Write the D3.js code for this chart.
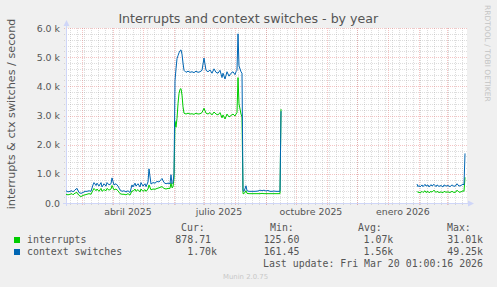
<!DOCTYPE html>
<html>
<head>
<meta charset="utf-8">
<script src="https://cdn.jsdelivr.net/npm/d3@7"></script>
<style>
html, body { margin: 0; padding: 0; background: #f0f0f0; }
svg { display: block; }
</style>
</head>
<body>
<svg id="chart" width="497" height="287"></svg>
<script>
//Time window of the graph (400 days, one pixel per day)
var startDate = new Date(2025, 1, 13, 1, 0, 0);
var endDate = new Date(2026, 2, 20, 1, 0, 0);

//Day offsets from startDate, shared by both series (null value = no data)
var days = [0, 2, 4, 6, 7, 9, 11, 13, 15, 17, 19, 21, 23, 25, 27, 28, 30, 31, 33, 35,
    36, 38, 40, 41, 43, 45, 46, 48, 50, 52, 54, 56, 58, 60, 62, 64, 66, 67, 69, 70,
    72, 74, 75, 77, 79, 80, 82, 83, 85, 87, 89, 91, 93, 95, 96, 98, 100, 102, 104, 105,
    106, 107,
    108, 109, 110, 111, 112, 113, 114, 115, 116, 117, 118,
    120, 122, 124, 126, 128, 130, 132, 134, 136, 138, 140, 142, 144, 146, 148, 150, 152, 154, 156,
    157, 159, 161, 163, 165, 167, 169, 170, 171, 172, 173, 175, 176,
    177, 178, 180, 181, 183, 186, 189, 192, 194, 196, 198, 200, 202, 204, 206, 208, 210, 212, 214, 215,
    216,
    351, 352, 353, 354, 356, 357, 359, 360, 362, 363, 365, 366, 368, 370, 371, 373, 375, 377, 378, 380,
    382, 384, 386, 388, 390, 391, 393, 395, 397, 398, 399];

//Values in thousands per second
var interrupts = [0.30, 0.28, 0.30, 0.32, 0.28, 0.34, 0.36, 0.26, 0.22, 0.26, 0.28, 0.30, 0.32, 0.30, 0.44, 0.50, 0.42, 0.48, 0.40, 0.50,
    0.40, 0.46, 0.42, 0.50, 0.44, 0.48, 0.60, 0.45, 0.48, 0.42, 0.32, 0.30, 0.30, 0.28, 0.32, 0.27, 0.42, 0.40, 0.48, 0.40,
    0.46, 0.38, 0.48, 0.40, 0.46, 0.40, 0.48, 0.62, 0.45, 0.48, 0.47, 0.50, 0.52, 0.55, 0.56, 0.50, 0.48, 0.50, 0.50, 0.70,
    0.52, 0.55,
    0.85, 2.80, 2.60, 2.90, 3.40, 3.75, 3.90, 3.92, 3.70, 3.30, 3.08,
    3.05, 3.08, 3.05, 3.06, 3.04, 3.08, 3.05, 3.06, 3.10, 3.25, 3.08, 3.05, 3.10, 3.02, 3.12, 3.05, 3.02, 3.10, 2.92,
    3.02, 2.88, 3.05, 2.95, 3.00, 3.05, 2.98, 3.05, 3.10, 4.30, 3.40, 3.05, 2.95,
    0.32, 0.32, 0.42, 0.33, 0.32, 0.32, 0.32, 0.32, 0.32, 0.33, 0.32, 0.32, 0.32, 0.32, 0.32, 0.32, 0.32, 0.32, 0.32, 3.22,
    null,
    0.40, 0.36, 0.38, 0.34, 0.40, 0.36, 0.42, 0.36, 0.40, 0.35, 0.40, 0.37, 0.44, 0.36, 0.40, 0.36, 0.38, 0.35, 0.40, 0.37,
    0.38, 0.36, 0.40, 0.36, 0.38, 0.44, 0.37, 0.38, 0.42, 0.40, 0.88];

var ctxSwitches = [0.42, 0.38, 0.40, 0.42, 0.38, 0.45, 0.50, 0.36, 0.33, 0.36, 0.40, 0.40, 0.42, 0.40, 0.62, 0.70, 0.60, 0.68, 0.58, 0.70,
    0.55, 0.66, 0.58, 0.70, 0.62, 0.66, 0.86, 0.62, 0.66, 0.58, 0.45, 0.40, 0.42, 0.38, 0.42, 0.36, 0.62, 0.55, 0.68, 0.58,
    0.66, 0.55, 0.70, 0.58, 0.66, 0.56, 0.72, 1.17, 0.65, 0.70, 0.68, 0.74, 0.72, 0.80, 0.84, 0.70, 0.66, 0.68, 0.66, 0.97,
    0.66, 0.70,
    1.00, 4.20, 4.60, 4.95, 5.05, 5.15, 5.22, 5.25, 5.10, 4.80, 4.55,
    4.48, 4.52, 4.48, 4.50, 4.47, 4.52, 4.48, 4.50, 4.55, 4.97, 4.55, 4.50, 4.56, 4.45, 4.60, 4.48, 4.45, 4.55, 4.30,
    4.45, 4.25, 4.50, 4.35, 4.45, 4.50, 4.40, 4.50, 4.55, 5.80, 4.70, 4.50, 4.45,
    0.42, 0.40, 0.59, 0.42, 0.40, 0.40, 0.40, 0.41, 0.44, 0.42, 0.44, 0.41, 0.43, 0.40, 0.40, 0.41, 0.40, 0.40, 0.40, 3.15,
    null,
    0.65, 0.56, 0.60, 0.55, 0.62, 0.56, 0.64, 0.58, 0.62, 0.55, 0.63, 0.58, 0.64, 0.56, 0.62, 0.57, 0.60, 0.55, 0.62, 0.58,
    0.60, 0.56, 0.62, 0.57, 0.60, 0.66, 0.58, 0.60, 0.65, 0.62, 1.70];

//Legend texts and statistics
var seriesNames = ["interrupts", "context switches"];
var seriesColors = ["#00cc00", "#0066b3"];
var statHeaders = ["Cur:", "Min:", "Avg:", "Max:"];
var curVals = [878.71, 1700];
var minVals = [125.60, 161.45];
var avgVals = [1070, 1560];
var maxVals = [31010, 49250];

//Axis ticks
var yTicks = [0, 1, 2, 3, 4, 5, 6];
var yTickLabels = ["0.0", "1.0 k", "2.0 k", "3.0 k", "4.0 k", "5.0 k", "6.0 k"];
var xLabelMonths = [new Date(2025, 3, 1), new Date(2025, 6, 1), new Date(2025, 9, 1), new Date(2026, 0, 1)];
var xLabels = ["abril 2025", "julio 2025", "octubre 2025", "enero 2026"];

var title = "Interrupts and context switches - by year";
var yTitle = "interrupts & ctx switches / second";
var lastUpdate = "Last update: Fri Mar 20 01:00:16 2026";

var DAY = 86400000;
var svg = d3.select("#chart");
var sans = "'DejaVu Sans', Verdana, sans-serif";
var mono = "'DejaVu Sans Mono', monospace";
var minorColor = "rgba(150,150,150,0.32)";
var majorColor = "rgba(225,100,100,0.38)";

var x = d3.scaleTime().domain([startDate, endDate]).range([66, 466]);
var y = d3.scaleLinear().domain([0, 6]).range([203, 28]);

//Canvas
svg.append("rect").attr("x", 66).attr("y", 28).attr("width", 401).attr("height", 175).attr("fill", "#ffffff");

//Minor grid: every 0.2 k and every week (mondays)
var minorY = d3.range(0, 6.01, 0.2).filter(function (v) { return Math.abs(v - Math.round(v)) > 0.01; });
svg.append("g").selectAll("line").data(minorY).enter().append("line")
    .attr("x1", 64).attr("x2", 467)
    .attr("y1", function (d) { return Math.round(y(d)) + 0.5; })
    .attr("y2", function (d) { return Math.round(y(d)) + 0.5; })
    .attr("stroke", minorColor).attr("stroke-dasharray", "1,1");

var weeks = d3.timeMonday.range(startDate, endDate);
svg.append("g").selectAll("line").data(weeks).enter().append("line")
    .attr("x1", function (d) { return Math.round(x(d)) + 0.5; })
    .attr("x2", function (d) { return Math.round(x(d)) + 0.5; })
    .attr("y1", 28).attr("y2", 205)
    .attr("stroke", minorColor).attr("stroke-dasharray", "1,1");

//Major grid: every 1 k and every month
svg.append("g").selectAll("line").data(yTicks.slice(1)).enter().append("line")
    .attr("x1", 64).attr("x2", 467)
    .attr("y1", function (d) { return Math.round(y(d)) + 0.5; })
    .attr("y2", function (d) { return Math.round(y(d)) + 0.5; })
    .attr("stroke", majorColor).attr("stroke-dasharray", "1,1");

var months = d3.timeMonth.range(startDate, endDate);
svg.append("g").selectAll("line").data(months).enter().append("line")
    .attr("x1", function (d) { return Math.round(x(d)) + 0.5; })
    .attr("x2", function (d) { return Math.round(x(d)) + 0.5; })
    .attr("y1", 28).attr("y2", 205)
    .attr("stroke", majorColor).attr("stroke-dasharray", "1,1");

//Axes with arrows
svg.append("line").attr("x1", 63).attr("x2", 470).attr("y1", 203.5).attr("y2", 203.5).attr("stroke", "#cfd6f8");
svg.append("line").attr("x1", 66.5).attr("x2", 66.5).attr("y1", 206).attr("y2", 24).attr("stroke", "#cfd6f8");
svg.append("path").attr("d", "M468,200.5L474,203.5L468,206.5Z").attr("fill", "#cfd6f8");
svg.append("path").attr("d", "M63.5,26L66.5,20L69.5,26Z").attr("fill", "#cfd6f8");

//Y tick labels
svg.append("g").selectAll("text").data(yTicks).enter().append("text")
    .attr("x", 60).attr("y", function (d) { return y(d) + 3.5; })
    .attr("text-anchor", "end").attr("font-family", sans).attr("font-size", "9.4px").attr("fill", "#555")
    .text(function (d, i) { return yTickLabels[i]; });

//X labels, centred half a month after the month start
svg.append("g").selectAll("text").data(xLabelMonths).enter().append("text")
    .attr("x", function (d) { return x(new Date(d.getTime() + 15 * DAY)); })
    .attr("y", 215)
    .attr("text-anchor", "middle").attr("font-family", sans).attr("font-size", "9.4px").attr("fill", "#555")
    .text(function (d, i) { return xLabels[i]; });

//Series lines, interrupts first so context switches lie on top
var points = days.map(function (d, i) {
    return { date: new Date(startDate.getTime() + d * DAY), vals: [interrupts[i], ctxSwitches[i]] };
});
[0, 1].forEach(function (k) {
    var line = d3.line()
        .defined(function (p) { return p.vals[k] != null; })
        .x(function (p) { return x(p.date); })
        .y(function (p) { return y(p.vals[k]); });
    svg.append("path").datum(points)
        .attr("d", line)
        .attr("fill", "none")
        .attr("stroke", seriesColors[k])
        .attr("stroke-width", 1);
});

//Titles
svg.append("text").attr("x", 248.3).attr("y", 23).attr("text-anchor", "middle")
    .attr("font-family", sans).attr("font-size", "12.6px").attr("fill", "#555").text(title);

svg.append("text").attr("transform", "translate(15,114) rotate(-90)").attr("text-anchor", "middle")
    .attr("font-family", sans).attr("font-size", "11.2px").attr("fill", "#555").text(yTitle);

svg.append("text").attr("transform", "translate(485,5) rotate(90)")
    .attr("font-family", sans).attr("font-size", "7.5px").attr("fill", "#c4c4c4").text("RRDTOOL / TOBI OETIKER");

//Legend
function fmt(v) {
    return v >= 1000 ? { s: (v / 1000).toFixed(2) + "k", suf: true } : { s: v.toFixed(2), suf: false };
}
var charW = 5.96;
var headerX = [181, 270, 358, 447];
var colEnd = [217, 305.3, 393.3, 483];
var stats = [curVals, minVals, avgVals, maxVals];
var rowY = [243, 255];

svg.append("g").selectAll("text").data(statHeaders).enter().append("text")
    .attr("x", function (d, i) { return headerX[i]; }).attr("y", 231)
    .attr("font-family", mono).attr("font-size", "9.9px").attr("fill", "#555")
    .text(function (d) { return d; });

seriesNames.forEach(function (name, r) {
    svg.append("rect").attr("x", 14).attr("y", rowY[r] - 6).attr("width", 6).attr("height", 6)
        .attr("fill", seriesColors[r]);
    svg.append("text").attr("x", 27).attr("y", rowY[r])
        .attr("font-family", mono).attr("font-size", "9.9px").attr("fill", "#555").text(name);
    stats.forEach(function (arr, c) {
        var f = fmt(arr[r]);
        svg.append("text").attr("x", colEnd[c] - (f.suf ? 0 : charW)).attr("y", rowY[r])
            .attr("text-anchor", "end")
            .attr("font-family", mono).attr("font-size", "9.9px").attr("fill", "#555").text(f.s);
    });
});

svg.append("text").attr("x", 483).attr("y", 267).attr("text-anchor", "end")
    .attr("font-family", mono).attr("font-size", "9.9px").attr("fill", "#555").text(lastUpdate);

svg.append("text").attr("x", 223).attr("y", 279)
    .attr("font-family", sans).attr("font-size", "6.9px").attr("fill", "#c8c8c8").text("Munin 2.0.75");
</script>
</body>
</html>
